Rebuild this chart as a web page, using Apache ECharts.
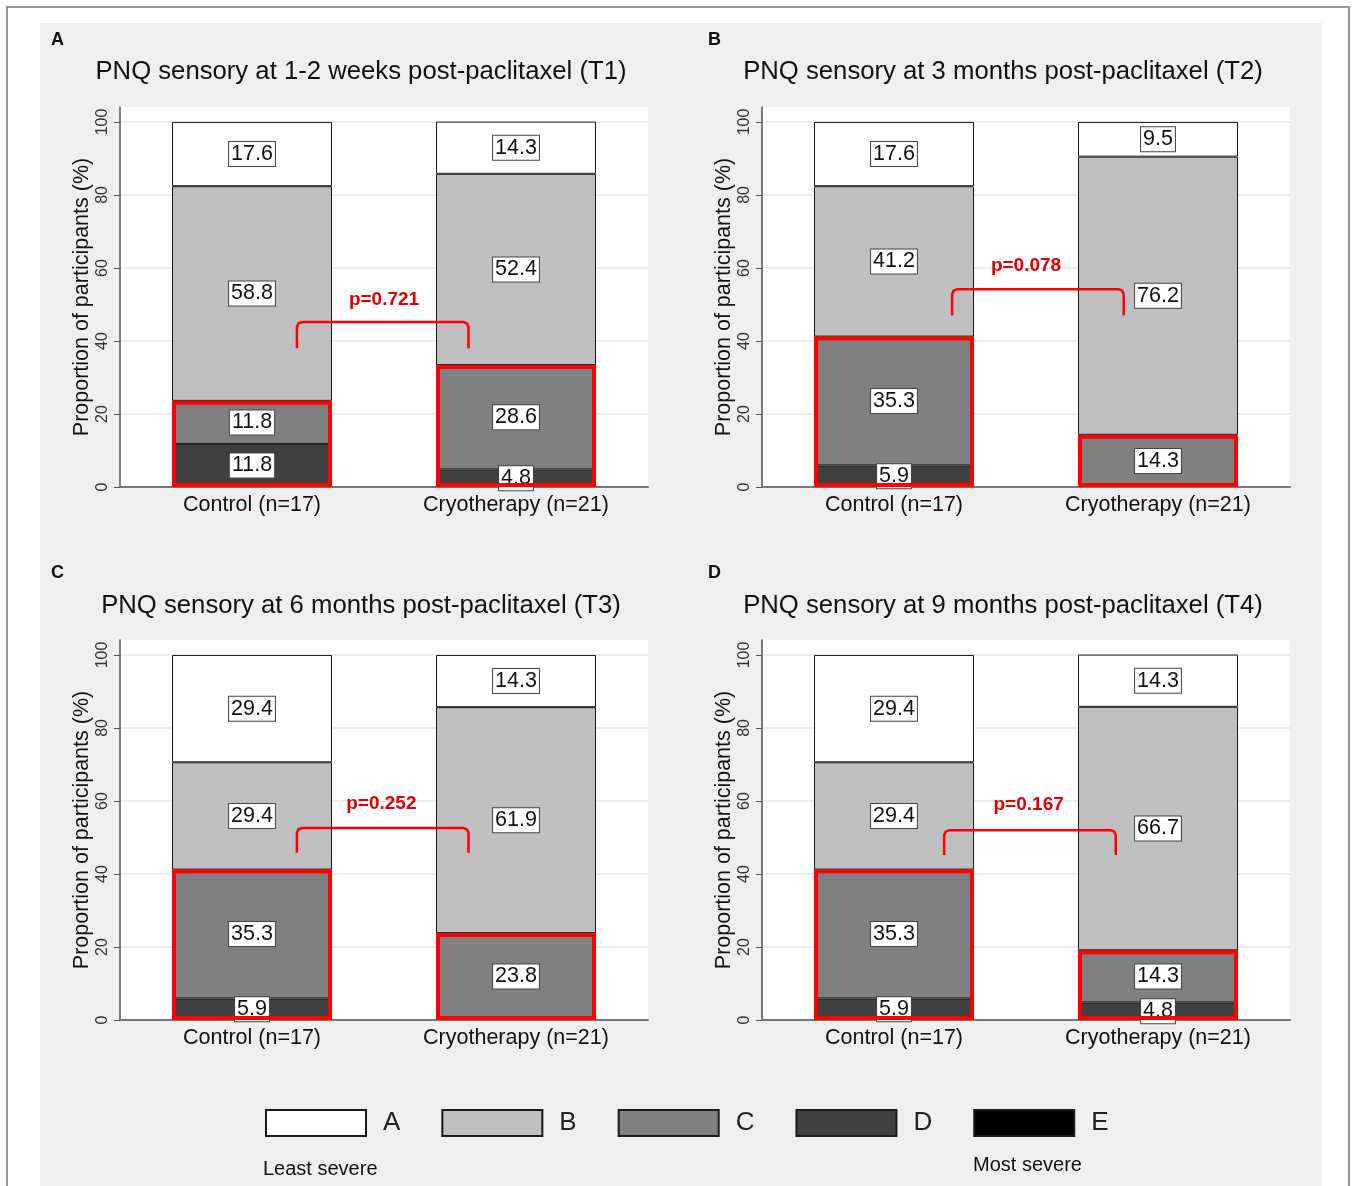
<!DOCTYPE html>
<html>
<head>
<meta charset="utf-8">
<title>PNQ sensory</title>
<script src="https://cdn.jsdelivr.net/npm/echarts@6/dist/echarts.min.js"></script>
<style>
    html, body { margin: 0; padding: 0; background: #fff; }
    #main { width: 1357px; height: 1186px; }
</style>
</head>
<body>
<div id="main"></div>
<script>
// 分组 / 等级 / 刻度
const groups = ['Control (n=17)', 'Cryotherapy (n=21)'];
const levels = ['A', 'B', 'C', 'D', 'E'];
const yTicks = [0, 20, 40, 60, 80, 100];

const panelLetters = ['A', 'B', 'C', 'D'];
const panelTitles = [
    'PNQ sensory at 1-2 weeks post-paclitaxel (T1)',
    'PNQ sensory at 3 months post-paclitaxel (T2)',
    'PNQ sensory at 6 months post-paclitaxel (T3)',
    'PNQ sensory at 9 months post-paclitaxel (T4)'
];

// 各等级百分比 A..E
const t1Control = [17.6, 58.8, 11.8, 11.8, 0];
const t1Cryo = [14.3, 52.4, 28.6, 4.8, 0];
const t2Control = [17.6, 41.2, 35.3, 5.9, 0];
const t2Cryo = [9.5, 76.2, 14.3, 0, 0];
const t3Control = [29.4, 29.4, 35.3, 5.9, 0];
const t3Cryo = [14.3, 61.9, 23.8, 0, 0];
const t4Control = [29.4, 29.4, 35.3, 5.9, 0];
const t4Cryo = [14.3, 66.7, 14.3, 4.8, 0];

// p值括号 (x: 0=Control, 1=Cryotherapy; y: 百分比)
const pValues = ['p=0.721', 'p=0.078', 'p=0.252', 'p=0.167'];
const bracketLeft = [0.17, 0.22, 0.17, 0.19];
const bracketRight = [0.82, 0.87, 0.82, 0.84];
const pTextX = [0.5, 0.5, 0.49, 0.51];
const bracketLeg = [38, 47, 45.8, 45.2];
const bracketTop = [45.2, 54.2, 52.6, 52];
const pTextY = [51.2, 60.5, 59.2, 58.9];

const controlData = [t1Control, t2Control, t3Control, t4Control];
const cryoData = [t1Cryo, t2Cryo, t3Cryo, t4Cryo];

const levelColors = ['#ffffff', '#bfbfbf', '#808080', '#404040', '#000000'];
const fontFamily = '"Liberation Sans", Arial, sans-serif';
const panelLeft = [120, 762, 120, 762];
const panelTop = [107, 107, 640, 640];

const chart = echarts.init(document.getElementById('main'));

const grids = [], xAxes = [], yAxes = [], series = [], graphics = [];

// 背景和外框
graphics.push({ type: 'rect', z: -10, silent: true, shape: { x: 7, y: 7, width: 1342, height: 1200 }, style: { fill: '#fff', stroke: '#777', lineWidth: 1.5 } });
graphics.push({ type: 'rect', z: -9, silent: true, shape: { x: 40, y: 23, width: 1282, height: 1170 }, style: { fill: '#efefef' } });

function bracketRenderer(p) {
    return function (params, api) {
        const c0 = api.coord([0, bracketTop[p]]);
        const c1 = api.coord([1, bracketTop[p]]);
        const span = c1[0] - c0[0];
        const xl = c0[0] + span * bracketLeft[p];
        const xr = c0[0] + span * bracketRight[p];
        const yb = c0[1];
        const yl = api.coord([0, bracketLeg[p]])[1];
        const ty = api.coord([0, pTextY[p]])[1];
        return {
            type: 'group',
            children: [{
                type: 'polyline',
                shape: { points: [[xl, yl], [xl, yb + 5], [xl + 1.5, yb + 1.5], [xl + 5, yb], [xr - 5, yb], [xr - 1.5, yb + 1.5], [xr, yb + 5], [xr, yl]] },
                style: { fill: null, stroke: '#ff0000', lineWidth: 2.5 }
            }, {
                type: 'text',
                x: c0[0] + span * pTextX[p],
                y: ty,
                style: { text: pValues[p], fill: '#e00000', font: 'bold 19px ' + fontFamily, align: 'center', verticalAlign: 'middle' }
            }]
        };
    };
}

for (let p = 0; p < 4; p++) {
    grids.push({ left: panelLeft[p], top: panelTop[p], width: 528, height: 380, show: true, backgroundColor: '#fff', borderWidth: 0 });
    xAxes.push({
        type: 'category', gridIndex: p, data: groups,
        axisLine: { lineStyle: { color: '#777', width: 2 } },
        axisTick: { show: false },
        axisLabel: { fontSize: 21.5, color: '#111', margin: 7 }
    });
    yAxes.push({
        type: 'value', gridIndex: p, min: 0, max: 104.1, interval: 20,
        name: 'Proportion of participants (%)', nameLocation: 'middle', nameGap: 27,
        nameTextStyle: { fontSize: 21.5, color: '#111' },
        axisLine: { show: true, lineStyle: { color: '#555', width: 1.5 } },
        axisTick: { show: true, length: 6, customValues: yTicks, lineStyle: { color: '#555' } },
        axisLabel: { rotate: 90, fontSize: 16, color: '#333', margin: 9, customValues: yTicks },
        splitLine: { lineStyle: { color: '#e6e6e6', width: 1.5 } }
    });

    // 从下往上堆叠: E, D, C, B, A
    for (let i = levels.length - 1; i >= 0; i--) {
        series.push({
            type: 'bar', name: levels[i], stack: 'p' + p,
            xAxisIndex: p, yAxisIndex: p,
            barWidth: 160, barGap: '-100%',
            data: [controlData[p][i] || null, cryoData[p][i] || null],
            itemStyle: { color: levelColors[i], borderColor: '#1a1a1a', borderWidth: 1 },
            label: {
                show: true, position: 'inside', fontSize: 21.5, color: '#111',
                backgroundColor: '#fff', borderColor: '#444', borderWidth: 1, padding: [2, 2, 0, 2],
                formatter: d => (d.value == null ? '' : d.value.toFixed(1))
            },
            emphasis: { disabled: true }, silent: true
        });
    }

    // 红框: C+D+E
    const severe = [controlData[p], cryoData[p]].map(g => +(g[2] + g[3] + g[4]).toFixed(1));
    series.push({
        type: 'bar', name: 'severe', xAxisIndex: p, yAxisIndex: p,
        barWidth: 160, barGap: '-100%', z: 3, silent: true,
        data: severe,
        itemStyle: { color: 'rgba(0,0,0,0)', borderColor: '#ff0000', borderWidth: 4 },
        emphasis: { disabled: true }
    });

    series.push({
        type: 'custom', xAxisIndex: p, yAxisIndex: p, z: 4, silent: true,
        data: [[0, bracketTop[p]]],
        renderItem: bracketRenderer(p)
    });

    graphics.push({
        type: 'text', left: p % 2 === 0 ? 51 : 708, top: p < 2 ? 31 : 564,
        style: { text: panelLetters[p], font: 'bold 18px ' + fontFamily, fill: '#111' }
    });
    graphics.push({
        type: 'text', x: p % 2 === 0 ? 361 : 1003, y: p < 2 ? 72 : 606,
        style: { text: panelTitles[p], font: '25.7px ' + fontFamily, fill: '#111', align: 'center', verticalAlign: 'middle' }
    });
}

graphics.push({ type: 'text', x: 263, y: 1169, style: { text: 'Least severe', font: '20px ' + fontFamily, fill: '#111', verticalAlign: 'middle' } });
graphics.push({ type: 'text', x: 973, y: 1165, style: { text: 'Most severe', font: '20px ' + fontFamily, fill: '#111', verticalAlign: 'middle' } });

const option = {
    animation: false,
    textStyle: { fontFamily: fontFamily },
    graphic: graphics,
    legend: {
        data: levels, left: 260, top: 1104,
        icon: 'rect', itemWidth: 100, itemHeight: 26, itemGap: 41,
        selectedMode: false,
        textStyle: { fontSize: 26, color: '#222', padding: [0, 0, 0, 12] }
    },
    grid: grids,
    xAxis: xAxes,
    yAxis: yAxes,
    series: series
};

chart.setOption(option);
</script>
</body>
</html>
